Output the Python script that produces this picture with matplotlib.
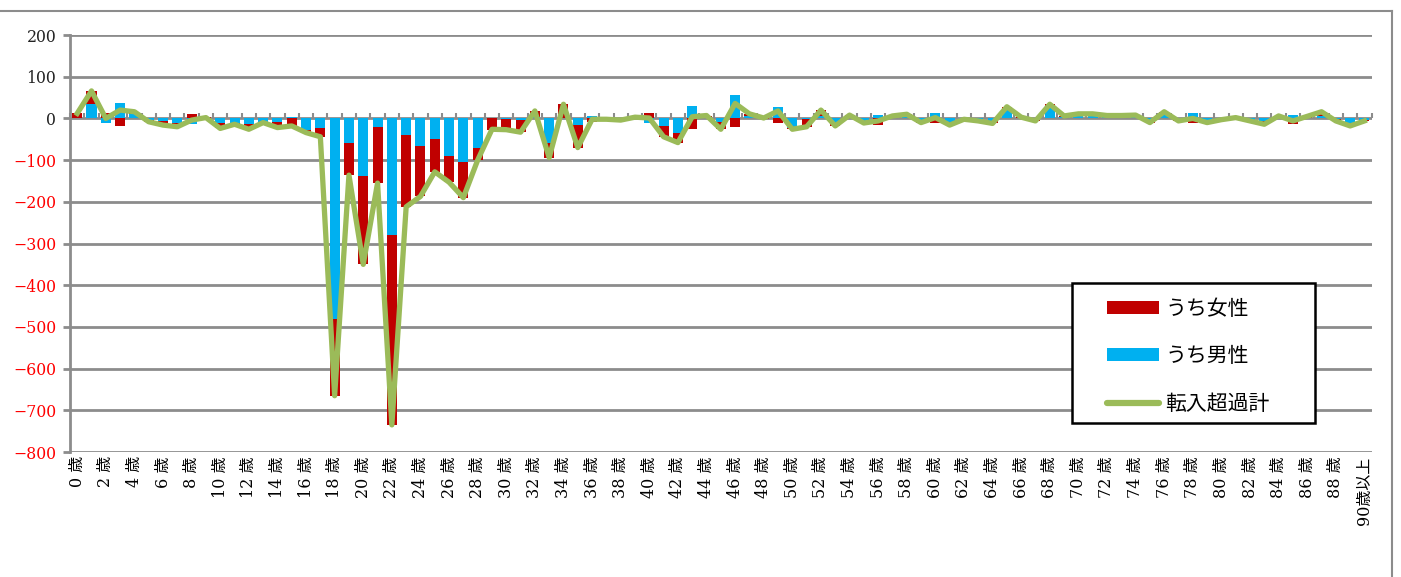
import numpy as np
import matplotlib.pyplot as plt
from matplotlib.patches import Patch, Rectangle
from matplotlib.lines import Line2D

# 年齢別 転入超過数 (人)
ages = [f"{i} 歳" for i in range(90)] + ["90歳以上"]

female = [10, 32, 12, -18, 6, -4, -10, -8, 10, 4,
          -14, -4, -12, -2, -14, -22, -6, -20, -185, -76,
          -212, -135, -455, -172, -120, -78, -63, -86, -28, -28,
          -25, -30, 14, -36, 32, -54, -8, 1, -2, 2,
          12, -25, -24, -25, 5, -18, -21, 5, -2, -10,
          -4, -18, 14, -8, 4, -5, -15, 4, 4, -5,
          -12, -8, -1, -3, -6, 6, 2, -3, 8, 3,
          6, 5, 4, 3, 4, -6, 6, -4, -12, -6,
          -2, 1, -3, -8, 2, -14, 4, 10, -4, -6,
          -3]
male = [2, 34, -12, 38, 10, -4, -6, -12, -14, -2,
        -10, -10, -14, -8, -8, 4, -28, -24, -480, -60,
        -138, -20, -280, -40, -67, -50, -90, -104, -72, 2,
        -2, -3, 4, -58, 2, -16, 6, -3, -2, 1,
        -11, -19, -34, 29, 2, -8, 57, 6, 3, 28,
        -22, -2, 6, -10, 4, -6, 9, 2, 6, -5,
        14, -8, -1, -3, -6, 22, 1, -3, 26, 3,
        5, 6, 3, 4, 4, -4, 10, -2, 12, -4,
        -1, 1, -3, -6, 4, 8, 1, 6, -2, -12,
        -3]

female = np.array(female)
male = np.array(male)
total = female + male
x = np.arange(len(ages))

red = "#c00000"
cyan = "#00b0f0"
green = "#9bbb59"
gray = "#8c8c8c"

fig = plt.figure(figsize=(14.01, 5.77), dpi=100)
ax = fig.add_axes([0.050, 0.2166, 0.929, 0.7227])

# male nearest the zero line, female stacked beyond it (same sign) or from zero
fem_bottom = np.where(np.sign(female) == np.sign(male), male, 0)
ax.bar(x, male, width=0.7, color=cyan, zorder=2)
ax.bar(x, female, width=0.7, bottom=fem_bottom, color=red, zorder=2)
ax.plot(x, total, color=green, lw=3.8, solid_joinstyle="round", zorder=4)

ax.set_xlim(-0.5, 90.5)
ax.set_ylim(-800, 200)
ax.set_yticks(np.arange(-800, 201, 100))
ax.yaxis.grid(True, color=gray, lw=2)
ax.set_axisbelow(True)
for s in ["top", "right", "bottom"]:
    ax.spines[s].set_visible(False)
ax.spines["left"].set_color(gray)
ax.spines["left"].set_linewidth(2)
ax.tick_params(axis="y", length=5, width=2, color=gray, labelsize=11.3, pad=5)
for lab in ax.get_yticklabels():
    lab.set_family("DejaVu Serif")
    v = lab.get_position()[1]
    lab.set_color("#ff0000" if v < 0 else "#222222")

ticks = list(range(0, 90, 2)) + [90]
ax.set_xticks(ticks)
ax.set_xticklabels([ages[i] for i in ticks], rotation=90, fontsize=11.5,
                   family=["DejaVu Serif", "Noto Sans CJK JP"])
ax.tick_params(axis="x", length=0, pad=3)

# category separators on the zero line
sec = ax.secondary_xaxis(0.8)
sec.set_xticks(np.arange(-0.5, 91, 1))
sec.set_xticklabels([])
sec.tick_params(axis="x", direction="out", length=3.5, width=1.5, color=gray)
sec.spines["bottom"].set_visible(False)
sec.spines["top"].set_visible(False)

# legend box
ax.add_patch(Rectangle((0.7696, 0.0695), 0.1866, 0.3358, transform=ax.transAxes,
                       facecolor="white", edgecolor="black", lw=1.8, zorder=5))
handles = [Patch(facecolor=red), Patch(facecolor=cyan),
           Line2D([], [], color=green, lw=4.5, solid_capstyle="round")]
leg = ax.legend(handles, ["うち女性", "うち男性", "転入超過計"], loc="upper left",
                bbox_to_anchor=(0.7888, 0.395), frameon=False, borderpad=0,
                prop={"family": "Noto Sans CJK JP", "size": 15},
                handlelength=2.5, handleheight=0.55, handletextpad=0.3,
                labelspacing=1.22)
leg.set_zorder(6)

# outer frame of the sheet
fig.add_artist(Line2D([0, 1392 / 1401], [1 - 11 / 577, 1 - 11 / 577], color=gray, lw=1.5))
fig.add_artist(Line2D([1392 / 1401, 1392 / 1401], [0, 1 - 11 / 577], color=gray, lw=1.5))

fig.savefig("out.png", dpi=100)
